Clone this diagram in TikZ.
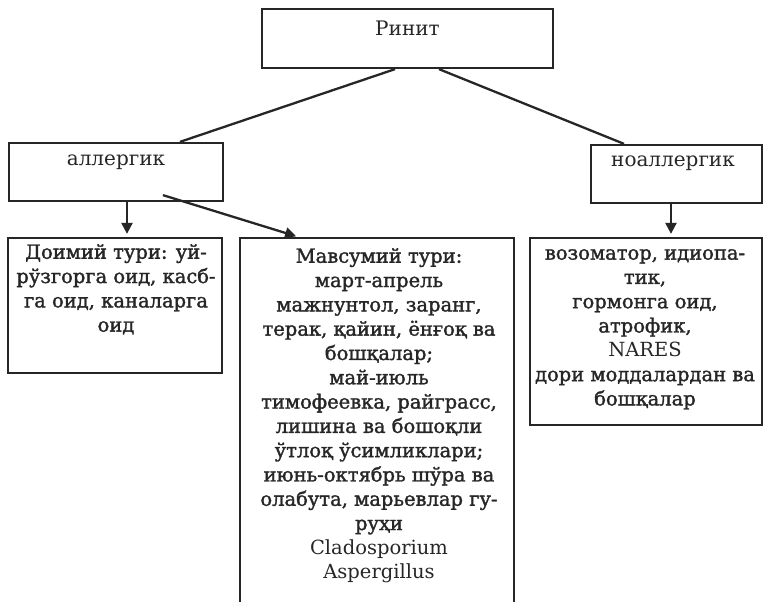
\documentclass[tikz,border=0pt]{standalone}
\usepackage{fontspec}
\setmainfont{DejaVu Serif}
\newfontfamily\medfont[FakeBold=1.6]{DejaVu Serif}
\usetikzlibrary{arrows.meta}
\begin{document}
\begin{tikzpicture}[x=1pt,y=-1pt,
 box/.style={draw=black!85, line width=2.3pt, rectangle, inner sep=0pt},
 txt/.style={font=\medfont\fontsize{19.5}{24.3}\selectfont, align=center, inner sep=0pt, text=black!85, anchor=north},
 hdr/.style={font=\fontsize{20}{22}\selectfont, inner sep=0pt, text=black!85},
 conn/.style={draw=black!85, line width=2.3pt},
 arr/.style={conn, -{Triangle[length=11pt,width=11pt]}}]
\useasboundingbox (0,0) rectangle (764,602);
\clip (0,0) rectangle (764,602);

\node[box, minimum width=291pt, minimum height=59pt] (rinit) at (407.5,38.5) {};
\node[hdr] (rinitT) at (407.5,28) {Ринит};

\node[box, minimum width=214pt, minimum height=58pt] (aller) at (116,172) {};
\node[hdr] (allerT) at (116,162) {аллергик};

\node[box, minimum width=171pt, minimum height=58pt] (noaller) at (676.5,174) {};
\node[hdr] (noallerT) at (673,163) {ноаллергик};

\node[box, minimum width=214pt, minimum height=135pt] (perm) at (115,305.5) {};
\node[txt] (permT) at (116,244) {Доимий тури: уй-\\рўзгорга оид, касб-\\га оид, каналарга\\оид};

\node[box, minimum width=274pt, minimum height=372pt] (seas) at (377,424) {};
\node[txt] (seasT) at (379,248) {Мавсумий тури:\\март-апрель\\мажнунтол, заранг,\\терак, қайин, ёнғоқ ва\\бошқалар;\\май-июль\\тимофеевка, райграсс,\\лишина ва бошоқли\\ўтлоқ ўсимликлари;\\июнь-октябрь шўра ва\\олабута, марьевлар гу-\\руҳи\\{\rmfamily Cladosporium}\\{\rmfamily Aspergillus}};

\node[box, minimum width=232pt, minimum height=187pt] (nad) at (646,331.5) {};
\node[txt] (nadT) at (645,249) {возоматор, идиопа-\\тик,\\гормонга оид,\\атрофик,\\{\rmfamily NARES}\\дори моддалардан ва\\бошқалар};

\draw[conn] ([xshift=-12.5pt]rinit.south) -- ([xshift=64pt]aller.north);
\draw[conn] ([xshift=31.5pt]rinit.south) -- ([xshift=-52.5pt]noaller.north);
\draw[arr, shorten >=3pt] ([xshift=11pt]aller.south) -- ([xshift=12pt]perm.north);
\draw[arr, shorten >=2pt] ([xshift=47pt,yshift=7pt]aller.south) -- ([xshift=-79pt]seas.north);
\draw[arr, shorten >=3pt] ([xshift=-5.5pt]noaller.south) -- ([xshift=25pt]nad.north);
\end{tikzpicture}
\end{document}
